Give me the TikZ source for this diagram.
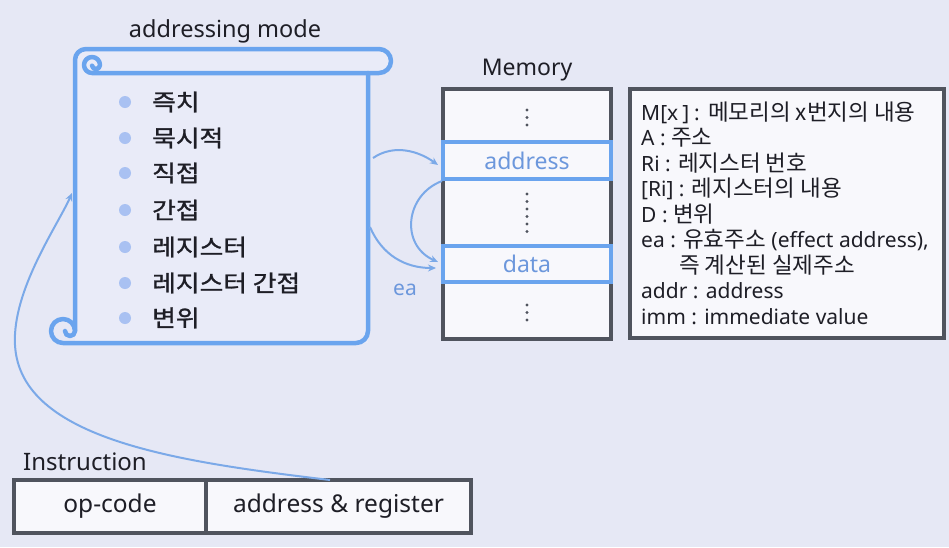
\documentclass[tikz,border=0pt]{standalone}
\usepackage{fontspec}
\setmainfont{Noto Sans}
\newfontfamily\kr{Noto Sans CJK KR}
\newfontfamily\krb{Noto Sans CJK KR}[FakeStretch=1.12,FakeBold=1.2]
\newcommand\lk[1]{{\kr\fontsize{22.5}{25.5}\selectfont #1}}
\usetikzlibrary{arrows.meta}
\definecolor{bg}{HTML}{E6E8F5}
\definecolor{scrollfill}{HTML}{E9EBF8}
\definecolor{sblue}{HTML}{6AA4EE}
\definecolor{ablue}{HTML}{7BA9E8}
\definecolor{tblue}{HTML}{6C97DC}
\definecolor{dotc}{HTML}{A9C1F2}
\definecolor{dgrey}{HTML}{50545E}
\definecolor{cellw}{HTML}{F8F8FC}
\definecolor{ink}{HTML}{1E1E26}
\tikzset{
  scrollline/.style={draw=sblue, line width=4.5pt, line join=round, line cap=round},
  bul/.style={circle, fill=dotc, minimum size=12pt, inner sep=0pt},
  item/.style={anchor=west, inner sep=0pt, text=ink, font=\krb\fontsize{23}{26}\selectfont},
  title/.style={inner sep=0pt, text=ink, font=\fontsize{23.5}{27}\selectfont},
  greycell/.style={draw=dgrey, line width=4pt, fill=cellw, minimum width=168pt, inner sep=0pt},
  bluecell/.style={draw=sblue, line width=4pt, fill=cellw, minimum width=168pt, inner sep=0pt, text=tblue, font=\fontsize{23}{26}\selectfont},
  vdot/.style={circle, fill=dgrey, minimum size=3.2pt, inner sep=0pt},
  conn/.style={draw=ablue, line width=2pt, -{Stealth[length=8pt,width=7pt]}},
  instbox/.style={draw=dgrey, line width=4pt, fill=cellw, inner sep=0pt, text=ink, font=\fontsize{24.5}{28}\selectfont},
}
\begin{document}
\begin{tikzpicture}[x=1pt,y=1pt,yscale=-1]
\fill[bg] (0,0) rectangle (949,547);
\useasboundingbox (0,0) rectangle (949,547);

% ---------- scroll ----------
\fill[scrollfill] (75,61) rectangle (368,343);
\fill[scrollfill, rounded corners=12pt] (75,49) rectangle (391,73);
\draw[scrollline] (75,331) -- (75,60) arc[start angle=180,end angle=270,radius=11]
  -- (379,49) arc[start angle=270,end angle=450,radius=12]
  -- (92,73) arc[start angle=90,end angle=360,radius=8] arc[start angle=0,end angle=170,radius=4];
\draw[scrollline] (368,73) -- (368,331) arc[start angle=0,end angle=90,radius=12]
  -- (63,343) arc[start angle=90,end angle=360,radius=12] arc[start angle=0,end angle=180,radius=5];
\node[title] (modetitle) at (225,31) {addressing mode};

\foreach \y/\t [count=\i] in {102/즉치, 138/묵시적, 173/직접, 210/간접, 247/레지스터, 283/레지스터 간접, 318/변위}{
  \node[bul] (b\i) at (125,\y) {};
  \node[item] (m\i) at (152,\y) {\t};
}

% ---------- memory ----------
\node[title, font=\fontsize{23}{27}\selectfont] (memtitle) at (527,70) {Memory};
\node[greycell, minimum height=53pt] (r1) at (527,115.5) {};
\node[greycell, minimum height=67pt] (r3) at (527,212.5) {};
\node[greycell, minimum height=57pt] (r5) at (527,310.5) {};
\node[bluecell, minimum height=37pt] (addr) at (527,160.5) {address};
\node[bluecell, minimum height=36pt] (data) at (527,264) {data};
\foreach \y in {110,117.5,125}{\node[vdot] at (527,\y) {};}
\foreach \y in {194,201.5,209,216.5,224,231.5}{\node[vdot] at (527,\y) {};}
\foreach \y in {305,312.5,320}{\node[vdot] at (527,\y) {};}

% ---------- connectors ----------
\coordinate (s1) at (373,158);
\coordinate (s2) at (370,227);
\coordinate (a1) at (438,165);
\coordinate (a2) at (442,181);
\coordinate (d1) at (438,262);
\coordinate (d2) at (436,268);
\draw[conn] (s1) .. controls (395,143) and (420,152) .. (a1);
\draw[conn] (a2) .. controls (405,195) and (400,245) .. (d1);
\draw[conn] (s2) .. controls (382,255) and (405,268) .. (d2);
\node[inner sep=0pt, text=tblue, font=\fontsize{21}{24}\selectfont] (ea) at (405,290) {ea};

% ---------- legend ----------
\node[draw=dgrey, line width=4pt, fill=cellw, minimum width=314pt, minimum height=249pt, inner sep=0pt] (legend) at (787,213.5) {};
\node[anchor=west, align=left, inner sep=0pt, text=ink, font=\fontsize{21}{25.5}\selectfont] (legtext) at (641,213) {%
M[x\hspace{4pt}]\hspace{5pt}:\hspace{1pt} \lk{메모리의 x번지의 내용}\\
A : \lk{주소}\\
Ri : \lk{레지스터 번호}\\
{[Ri]} : \lk{레지스터의 내용}\\
D : \lk{변위}\\
ea : \lk{유효주소} (effect address),\\
\hspace*{38pt}\lk{즉 계산된 실제주소}\\
addr : address\\
imm : immediate value};

% ---------- instruction ----------
\node[title, anchor=west, font=\fontsize{24}{28}\selectfont] (insttitle) at (23,462) {Instruction};
\node[instbox, minimum width=192pt, minimum height=53pt] (op) at (110,506.5) {op-code};
\node[instbox, minimum width=265pt, minimum height=53pt] (ar) at (338.5,506.5) {address \& register};
\coordinate (arTop) at (330,480);
\coordinate (scrollL) at (72,193);
\draw[conn] (arTop) .. controls (180,462) and (20,440) .. (15,345) .. controls (12,290) and (58,225) .. (scrollL);
\end{tikzpicture}
\end{document}
